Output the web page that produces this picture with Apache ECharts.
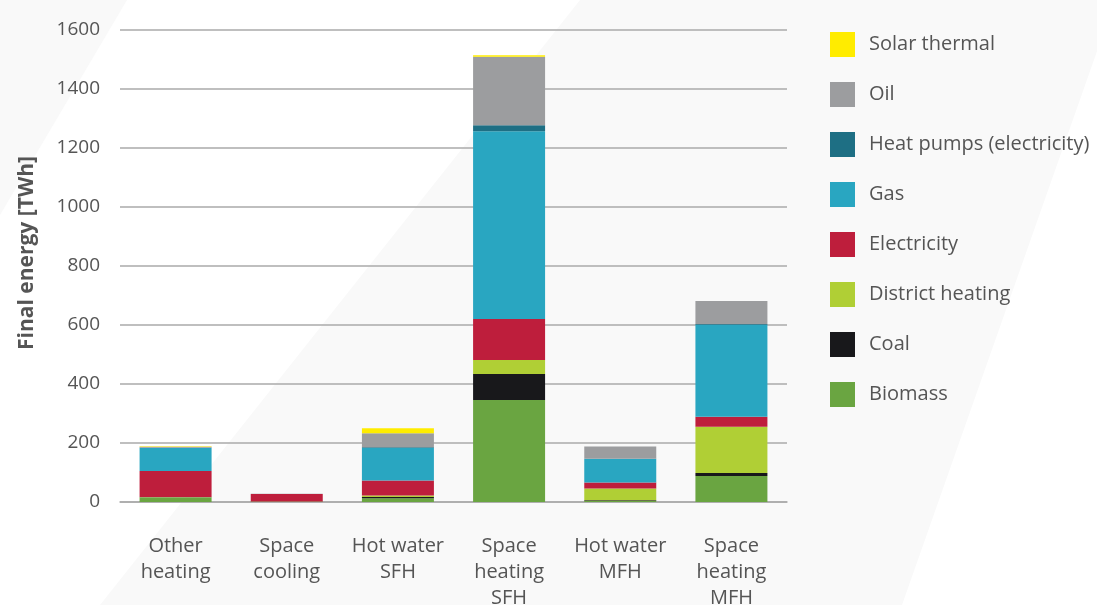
<!DOCTYPE html>
<html>
<head>
<meta charset="utf-8">
<title>Final energy by end use</title>
<script src="https://cdn.jsdelivr.net/npm/echarts@6/dist/echarts.min.js"></script>
<style>
  html, body { margin: 0; padding: 0; background: #fff; }
  #chart { width: 1097px; height: 605px; }
</style>
</head>
<body>
<div id="chart"></div>
<script>
// categories on the x axis
var categories = ['Other\nheating', 'Space\ncooling', 'Hot water\nSFH', 'Space\nheating\nSFH', 'Hot water\nMFH', 'Space\nheating\nMFH'];
var yTicks = [0, 200, 400, 600, 800, 1000, 1200, 1400, 1600];

// values in TWh (bottom of the stack first)
var biomass         = [15, 2, 13, 346, 3, 88];
var coal            = [1, 0, 4, 88, 3, 10];
var districtHeating = [1, 0, 5, 47, 40, 157];
var electricity     = [88, 25, 51, 139, 20, 34];
var gas             = [78, 0, 110, 637, 81, 312];
var heatPumps       = [1, 0, 3, 20, 0, 2];
var oil             = [3, 1, 47, 232, 41, 78];
var solarThermal    = [2, 0, 17, 5, 0, 0];

var seriesNames = ['Biomass', 'Coal', 'District heating', 'Electricity', 'Gas', 'Heat pumps (electricity)', 'Oil', 'Solar thermal'];
var seriesData = [biomass, coal, districtHeating, electricity, gas, heatPumps, oil, solarThermal];
var colors = ['#6aa541', '#18181b', '#b0cf35', '#be1e3c', '#29a6c1', '#1e6f84', '#9c9d9f', '#ffec00'];

var font = '"Open Sans", "Noto Sans", sans-serif';
var textColor = '#555';

var chart = echarts.init(document.getElementById('chart'));

var series = seriesNames.map(function(name, i) {
    return {
        name: name,
        type: 'bar',
        stack: 'total',
        barWidth: 72,
        itemStyle: { color: colors[i] },
        emphasis: { disabled: true },
        data: seriesData[i]
    };
});

var option = {
    backgroundColor: '#fff',
    animation: false,
    textStyle: { fontFamily: font },
    graphic: [
        // faint diagonal bands in the background
        { type: 'polygon', z: -10, silent: true,
          shape: { points: [[0, 0], [127, 0], [0, 215]] },
          style: { fill: '#f9f9f9' } },
        { type: 'polygon', z: -10, silent: true,
          shape: { points: [[580, 0], [1115, 0], [902, 605], [100, 605]] },
          style: { fill: '#f9f9f9' } },
        { type: 'text', z: 10, silent: true,
          x: 27, y: 253,
          rotation: Math.PI / 2,
          style: { text: 'Final energy [TWh]', fill: textColor, font: 'bold 21px ' + font,
                   align: 'center', verticalAlign: 'middle' }
        }
    ],
    grid: { left: 120, right: 310, top: 30, bottom: 103, outerBoundsMode: 'none' },
    legend: {
        orient: 'vertical',
        left: 825,
        top: 27,
        itemWidth: 25,
        itemHeight: 25,
        itemGap: 25,
        icon: 'rect',
        selectedMode: false,
        data: seriesNames.slice().reverse(),
        textStyle: { fontFamily: font, fontSize: 20, color: textColor, padding: [0, 0, 0, 9] }
    },
    xAxis: {
        type: 'category',
        data: categories,
        axisTick: { show: false },
        axisLine: { lineStyle: { color: '#aaa', width: 1.5 } },
        axisLabel: { color: textColor, fontSize: 20, lineHeight: 26, margin: 31, interval: 0, fontFamily: font }
    },
    yAxis: {
        type: 'value',
        min: yTicks[0],
        max: yTicks[yTicks.length - 1],
        interval: yTicks[1] - yTicks[0],
        axisLine: { show: false },
        axisTick: { show: false },
        splitLine: { lineStyle: { color: '#aaa', width: 1.5 } },
        axisLabel: { color: textColor, fontSize: 19, margin: 20, fontFamily: font,
                     formatter: function(v) { return String(v); } }
    },
    series: series
};

chart.setOption(option);
</script>
</body>
</html>
